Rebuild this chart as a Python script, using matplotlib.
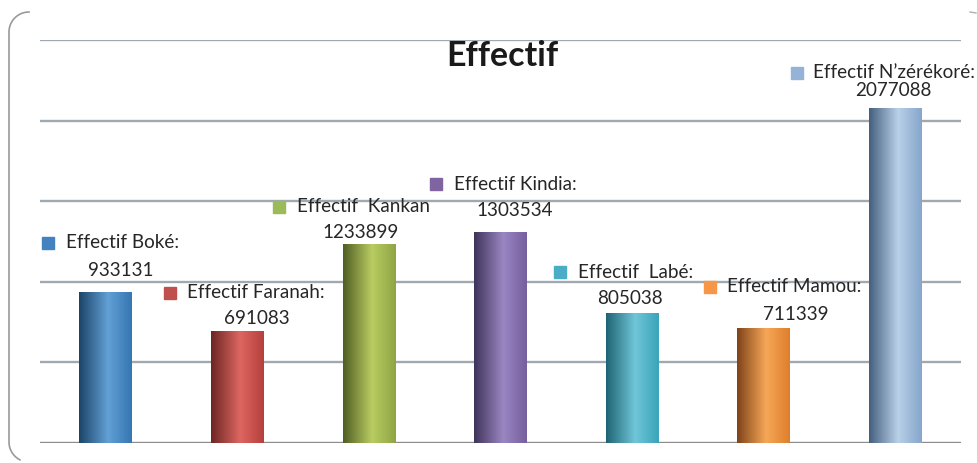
import numpy as np
import matplotlib.pyplot as plt
from matplotlib.colors import LinearSegmentedColormap
from matplotlib.lines import Line2D

regions = ['Boké', 'Faranah', 'Kankan', 'Kindia', 'Labé', 'Mamou', 'N’zérékoré']
label_names = ['Effectif Boké:', 'Effectif Faranah:', 'Effectif  Kankan', 'Effectif Kindia:',
               'Effectif  Labé:', 'Effectif Mamou:', 'Effectif N’zérékoré:']
effectif = [933131, 691083, 1233899, 1303534, 805038, 711339, 2077088]

key_colors = ['#4282c0', '#c0504d', '#9bbb59', '#8064a2', '#4bacc6', '#f79646', '#95b3d7']
# dark edge, highlight, right side for each cylinder
shades = [('#1d4569', '#62a0d6', '#3677b2'),
          ('#6e2624', '#dd6661', '#b6403d'),
          ('#505f24', '#b9cc62', '#8fa443'),
          ('#3f345a', '#9a86c2', '#76609e'),
          ('#1f6474', '#6fc6d8', '#3ba4ba'),
          ('#80441a', '#f6a757', '#de7f2c'),
          ('#45607f', '#b9d0e8', '#86a6cb')]

# label placement in pixels: key square, start of text, centre of value
key_xy = [(48, 243), (170, 293), (279, 207), (436, 184), (560, 272), (710, 287), (797, 73)]
text_x = [66, 187, 297, 454, 578, 727, 813]
value_xy = [(121, 270), (257, 319), (361, 233), (515, 211), (630, 298), (796, 314), (893, 90)]

W, H = 977, 463
fig = plt.figure(figsize=(W / 100, H / 100), dpi=100)
x0, x1, y0, y1 = 40, 961, 40, 443
ax = fig.add_axes([x0 / W, 1 - y1 / H, (x1 - x0) / W, (y1 - y0) / H])
ax.set_xlim(-0.5, 6.5)
ax.set_ylim(0, 2500000)
ax.axis('off')

for g in np.arange(500000, 2500001, 500000):
    ax.axhline(g, color='#a0a8b2', lw=1.7, zorder=1)
ax.axhline(0, color='#8c8c8c', lw=1.7, zorder=1)

bw = 0.4
for i, v in enumerate(effectif):
    cmap = LinearSegmentedColormap.from_list('c', [(0, shades[i][0]), (0.55, shades[i][1]), (1, shades[i][2])])
    grad = np.linspace(0, 1, 100).reshape(1, -1)
    ax.imshow(grad, cmap=cmap, aspect='auto', extent=[i - bw / 2, i + bw / 2, 0, v],
              interpolation='bilinear', zorder=2)


def to_data(px, py):
    return (px - x0) / (x1 - x0) * 7 - 0.5, (y1 - py) / (y1 - y0) * 2500000


font = 'Lato'
for i, v in enumerate(effectif):
    kx, ky = to_data(*key_xy[i])
    ax.plot(kx, ky, 's', ms=8, color=key_colors[i], zorder=4)
    tx, ty = to_data(text_x[i], key_xy[i][1])
    ax.text(tx, ty, label_names[i], ha='left', va='center', fontsize=13.6,
            family=font, color='#262626', zorder=4)
    vx, vy = to_data(*value_xy[i])
    ax.text(vx, vy, str(v), ha='center', va='center', fontsize=13.6,
            family=font, color='#262626', zorder=4)

tx, ty = to_data(502, 56)
ax.text(tx, ty, 'Effectif', ha='center', va='center', fontsize=24.5, fontweight='bold',
        family=font, color='#1a1a1a', zorder=4)

# left side of the rounded frame
r = 20
a1 = np.linspace(np.pi / 2, np.pi, 20)
a2 = np.linspace(np.pi, 1.35 * np.pi, 20)
fx = np.concatenate([29 + r * np.cos(a1), 29 + r * np.cos(a2)])
fy = np.concatenate([32 - r * np.sin(a1), 442 - r * np.sin(a2)])
fig.add_artist(Line2D(fx / W, 1 - fy / H, color='#9a9a9a', lw=1.2))
fig.add_artist(Line2D([970 / W, 976 / W], [1 - 12 / H, 1 - 13 / H], color='#b0b0b0', lw=1))

fig.savefig('out.png', dpi=100)
